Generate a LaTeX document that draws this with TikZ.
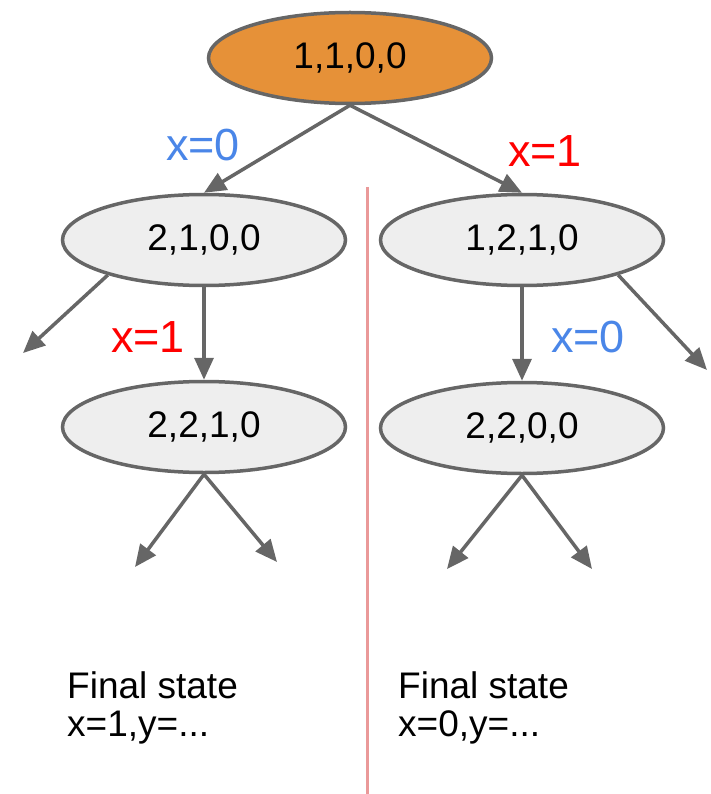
\documentclass[tikz,border=0pt]{standalone}
\usepackage{fontspec}
\setmainfont{Liberation Sans}
\usetikzlibrary{arrows.meta,shapes.geometric}
\definecolor{edgegray}{HTML}{666666}
\definecolor{rootorange}{HTML}{E69138}
\definecolor{nodegray}{HTML}{EEEEEE}
\definecolor{lblblue}{HTML}{4A86E8}
\definecolor{lblred}{HTML}{FF0000}
\definecolor{divpink}{HTML}{EA9999}
\tikzset{
  st/.style={ellipse, draw=edgegray, line width=3.5pt, fill=nodegray, minimum width=283pt, minimum height=91pt, inner sep=0pt, font=\fontsize{37}{42}\selectfont},
  arr/.style={draw=edgegray, line width=3.5pt, -{Triangle[length=22pt,width=19pt]}},
  lbl/.style={inner sep=0pt, font=\fontsize{45}{50}\selectfont},
  fin/.style={inner sep=0pt, anchor=north west, align=left, font=\fontsize{37}{38}\selectfont}
}
\begin{document}
\begin{tikzpicture}[x=1pt,y=-1pt]
\useasboundingbox (0,0) rectangle (710,794);
\coordinate (dtop) at (367,187);
\coordinate (dbot) at (367,794);
\draw[divpink, line width=3pt] (dtop) -- (dbot);

\node[st, fill=rootorange] (r) at (350,58) {1,1,0,0};
\node[st] (n1) at (204,240) {2,1,0,0};
\node[st] (n2) at (522,240) {1,2,1,0};
\node[st] (n3) at (204,427) {2,2,1,0};
\node[st] (n4) at (522,428) {2,2,0,0};

\coordinate (e1) at (23,353);
\coordinate (e2) at (707,370);
\coordinate (e3) at (135,567);
\coordinate (e4) at (277,562);
\coordinate (e5) at (447,569);
\coordinate (e6) at (592,569);

\draw[arr] (r.south) -- (n1.north);
\draw[arr] (r.south) -- (n2.north);
\draw[arr] (n1.south) -- (n3.north);
\draw[arr] (n2.south) -- (n4.north);
\draw[arr] (n1.200) -- (e1);
\draw[arr] (n2.340) -- (e2);
\draw[arr] (n3.south) -- (e3);
\draw[arr] (n3.south) -- (e4);
\draw[arr] (n4.south) -- (e5);
\draw[arr] (n4.south) -- (e6);

\node[lbl, text=lblblue] (l1) at (203,145) {x=0};
\node[lbl, text=lblred] (l2) at (545,151) {x=1};
\node[lbl, text=lblred] (l3) at (148,337) {x=1};
\node[lbl, text=lblblue] (l4) at (588,337) {x=0};

\node[fin] (f1) at (67,671) {Final state\\x=1,y=...};
\node[fin] (f2) at (398,671) {Final state\\x=0,y=...};
\end{tikzpicture}
\end{document}
